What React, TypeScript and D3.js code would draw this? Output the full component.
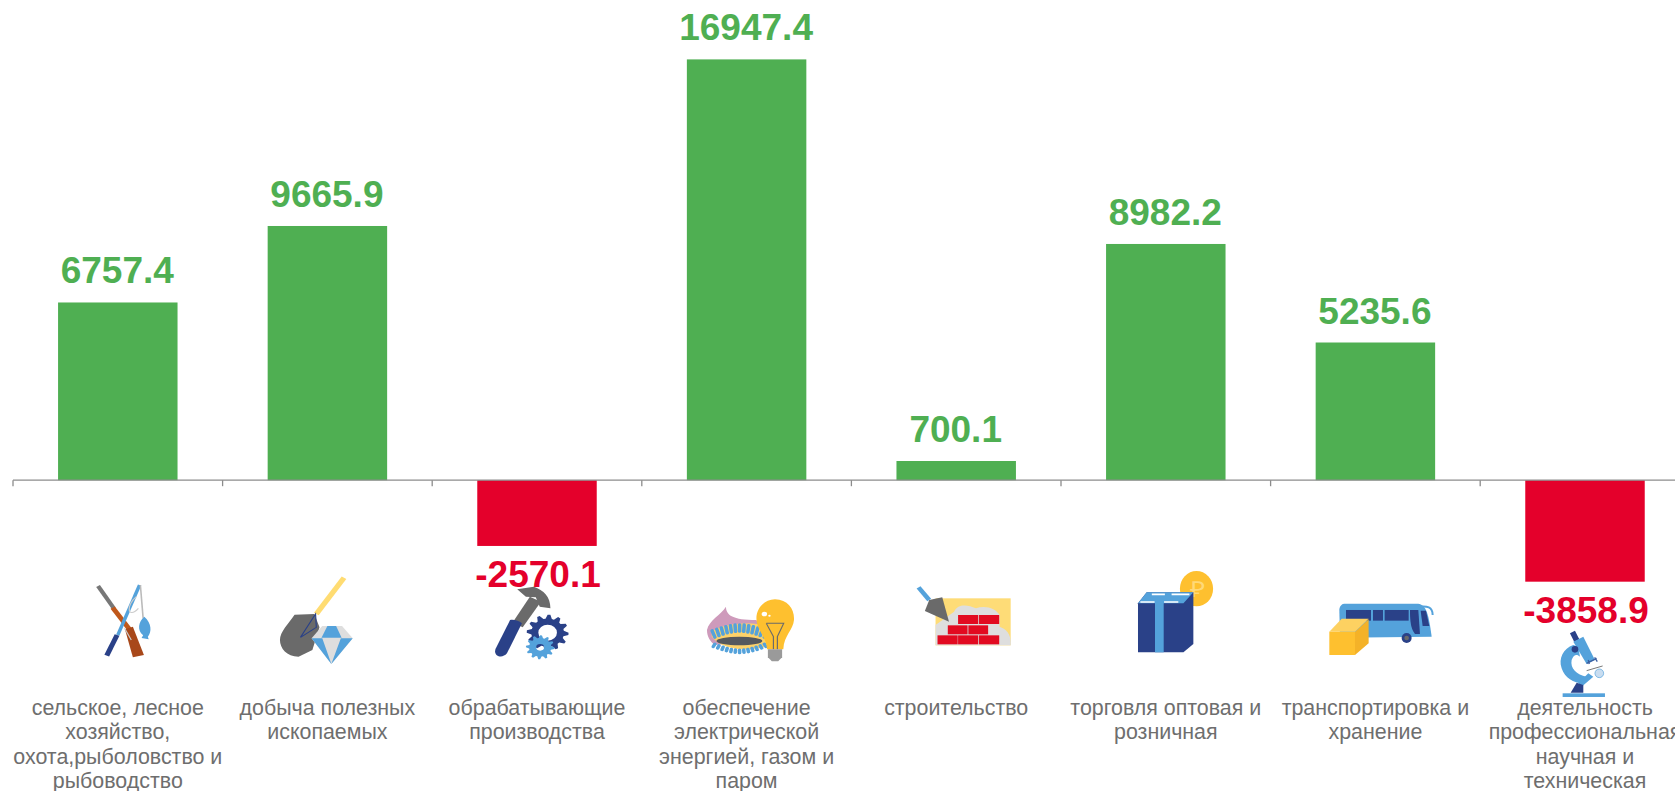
import React from "react";
import * as d3 from "d3";

const W = 1675, H = 791;
const categories = ["agri", "mining", "manufacturing", "energy", "construction", "trade", "transport", "science"];
const categoryLines = [
  ["сельское, лесное", "хозяйство,", "охота,рыболовство и", "рыбоводство"],
  ["добыча полезных", "ископаемых"],
  ["обрабатывающие", "производства"],
  ["обеспечение", "электрической", "энергией, газом и", "паром"],
  ["строительство"],
  ["торговля оптовая и", "розничная"],
  ["транспортировка и", "хранение"],
  ["деятельность", "профессиональная", "научная и", "техническая"],
];
const labels = ["6757.4", "9665.9", "-2570.1", "16947.4", "700.1", "8982.2", "5235.6", "-3858.9"];
// Heights as drawn: the tallest bar is drawn shorter than its label says.
const barValues = [6757.4, 9665.9, -2500, 16000, 730, 8982.2, 5235.6, -3858.9];

const GREEN = "#4FAF52", RED = "#E4002B", GREY = "#6E6E6E";
const NAVY = "#2A4188", BLUE = "#54A2DB", YEL = "#FEC02F", DGREY = "#6A6A6A", LG = "#DEDEDE";
const Y0 = 480.2;

const x = d3.scaleBand<string>().domain(categories).range([13, 13 + 8 * 209.6]).paddingInner(0.43).paddingOuter(0.215);
const y = d3.scaleLinear().domain([-4000, 16000]).range([Y0 + 105.2, Y0 - 420.8]);

function gearPath(cx: number, cy: number, r: number, hole: number, teeth: number, ax = 1) {
  const pts: [number, number][] = [];
  const n = teeth * 4;
  for (let i = 0; i < n; i++) {
    const a = (i / n) * Math.PI * 2;
    const rr = i % 4 < 2 ? r : r * 0.78;
    pts.push([cx + rr * ax * Math.cos(a), cy + rr * Math.sin(a)]);
  }
  const outer = "M" + pts.map((p) => p.join(",")).join("L") + "Z";
  const inner = `M${cx - hole * ax},${cy}a${hole * ax},${hole} 0 1,0 ${2 * hole * ax},0a${hole * ax},${hole} 0 1,0 ${-2 * hole * ax},0Z`;
  return outer + inner;
}

const flameTips = d3.range(0, 13);

// Pictograms traced in crop coordinates, one group per crop.
const Icons = () => (
  <g>
    <g transform={`translate(0,540) scale(${1 / 2.529},${1 / 3})`}>
      {/* rifle + rod */}
      <path d="M248,138L288,205" stroke="#777" strokeWidth={11} />
      <path d="M285,203L330,272" stroke="#C0581A" strokeWidth={13} />
      <path d="M316,268L336,260L364,345L336,352Z" fill="#A8481A" />
      <path d="M353,135L298,285" stroke={BLUE} strokeWidth={9} />
      <path d="M296,285L270,347" stroke={NAVY} strokeWidth={13} />
      <path d="M355,135L362,235" stroke="#BBB" strokeWidth={4} />
      <path d="M345,170C318,195 322,240 350,205M315,265L332,300" stroke="#CCC" strokeWidth={3} fill="none" />
      <path d="M365,230C384,250 384,275 374,290L376,298L358,294L362,286C346,270 350,245 365,230Z" fill={BLUE} />
      {/* shovel + diamond */}
      <path d="M870,113L800,222" stroke="#FFDC72" strokeWidth={14} />
      <path d="M745,224L795,222L808,262L790,330L755,350C725,350 708,325 708,300C708,275 730,250 745,224Z" fill={DGREY} />
      <path d="M798,222L760,292L800,262Z" fill="none" stroke={NAVY} strokeWidth={3} />
      <path d="M815,258L865,258L892,295L838,372L788,295Z" fill={LG} />
      <path d="M828,258L850,258L864,293L813,293Z" fill={BLUE} />
      <path d="M788,295L815,295L838,372ZM892,295L862,295L838,372Z" fill={BLUE} />
      {/* hammer + gears */}
      <path d="M1308,148L1350,140C1375,150 1392,170 1392,205L1365,200L1355,172L1330,170Z" fill={DGREY} />
      <path d="M1340,170L1368,185L1322,262L1296,248Z" fill={DGREY} />
      <path d="M1290,240C1300,238 1312,242 1320,250L1282,340C1270,358 1245,348 1254,325Z" fill={NAVY} />
      <path d={gearPath(1385, 278, 54, 24, 12, 0.98)} fill={NAVY} fillRule="evenodd" />
      <path d={gearPath(1366, 322, 36, 10, 12)} fill={BLUE} fillRule="evenodd" />
    </g>
    <g transform={`translate(620,540) scale(${1 / 2.529},${1 / 3})`}>
      {/* flame + burner + bulb */}
      <path d="M220,270C225,240 255,225 268,200C268,225 285,240 345,240L370,300L240,315C228,305 220,290 220,270Z" fill="#CE9ABB" />
      <path d="M232,275C255,250 330,245 365,255L370,320C320,335 260,330 232,290Z" fill="#FDD26A" />
      {flameTips.map((i) => {
        const f = i / 12;
        const bx = 240 + 125 * f;
        const rise = 18 * Math.sin(Math.PI * f);
        const lean = (f - 0.5) * 14;
        return (
          <g key={i}>
            <path d={`M${bx},${292 - rise}L${bx + lean},${272 - rise}`} stroke={BLUE} strokeWidth={9} strokeLinecap="round" />
            <path d={`M${bx},${312 + rise}L${bx + lean * 0.6},${320 + rise}`} stroke={BLUE} strokeWidth={9} strokeLinecap="round" />
          </g>
        );
      })}
      <ellipse cx={302} cy={303} rx={58} ry={13} fill="#55595E" />
      <path d="M392,178C425,178 442,210 440,240C438,270 415,285 413,328L372,328C370,290 345,270 345,235C345,205 365,178 392,178Z" fill={YEL} />
      <circle cx={365} cy={222} r={7} fill="#FFF" />
      <circle cx={378} cy={227} r={3} fill="#FFF" />
      <path d="M370,250L414,250L398,290L398,328M370,250L388,290L388,328" stroke="#6A6A6A" strokeWidth={3} fill="none" />
      <path d="M374,328L410,328L410,352L400,364L384,364L374,352Z" fill="#9A9A9A" />
      {/* wall */}
      <rect x={798} y={175} width={190} height={141} fill="#FEDC77" />
      <path d="M798,316L798,255L845,215C855,190 880,195 900,205C925,195 950,205 960,225L960,260C985,270 990,295 988,316Z" fill={LG} />
      {[[855, 225], [908, 225], [829, 256], [881, 256], [803, 286], [855, 286], [908, 286]].map(([bx, by], i) => (
        <rect key={i} x={bx} y={by} width={i > 1 && i < 4 ? 50 : 51} height={27} fill="#E20A20" />
      ))}
      <path d="M755,142L782,180" stroke={BLUE} strokeWidth={12} />
      <path d="M782,180L815,172L832,245L771,213Z" fill={DGREY} />
      {/* box + coin */}
      <ellipse cx={1458} cy={146} rx={42} ry={53} fill={YEL} />
      <text x={1460} y={172} fontFamily="Liberation Sans" fontSize={66} fill="#FFD978" textAnchor="middle">₽</text>
      <path d="M1310,190L1332,157L1450,157L1450,312L1425,337L1310,337Z" fill={NAVY} />
      <path d="M1310,190L1332,157L1450,157L1425,190Z" fill={BLUE} />
      <rect x={1353} y={186} width={22} height={151} fill={BLUE} />
      <path d="M1316,186L1352,186M1376,186L1412,186M1345,163L1378,163M1395,163L1440,163" stroke="#FFF" strokeWidth={5} />
    </g>
    <g transform="translate(1240,460) scale(0.3333)">
      {/* bus + parcel */}
      <path d="M312,431L530,431C555,431 565,450 575,530L300,533L298,450C298,440 305,431 312,431Z" fill={BLUE} />
      <path d="M540,440C560,438 578,440 578,465" stroke={BLUE} strokeWidth={6} fill="none" />
      <rect x={318} y={450} width={75} height={32} fill={NAVY} />
      <rect x={399} y={450} width={30} height={32} fill={NAVY} />
      <rect x={434} y={450} width={72} height={32} fill={NAVY} />
      <path d="M510,450L535,450L540,522L525,522C510,505 510,470 510,450Z" fill={NAVY} />
      <path d="M542,452L558,452L568,498L548,498Z" fill={NAVY} />
      <circle cx={500} cy={534} r={15} fill={NAVY} />
      <circle cx={500} cy={534} r={7} fill="#6A6A6A" />
      <path d="M268,515L345,515L345,585L268,585Z" fill={YEL} />
      <path d="M345,515L386,478L386,550L345,585Z" fill="#F4B228" />
      <path d="M268,515L305,476L386,476L345,515Z" fill="#FDD161" />
      {/* microscope */}
      <path d="M990,520L1005,512L1018,538L1003,546Z" fill={NAVY} />
      <path d="M1000,545L1030,530L1065,600L1040,612Z" fill={BLUE} />
      <path d="M1000,555C970,565 955,595 965,625C975,655 1000,668 1030,672L1040,650C1010,645 990,625 995,600C1000,585 1010,580 1020,590L1015,560Z" fill={BLUE} />
      <circle cx={1005} cy={568} r={10} fill={NAVY} />
      <path d="M1040,610L1070,595M1045,600L1048,612M1064,592L1072,605" stroke="#3C5FA0" strokeWidth={4} fill="none" />
      <path d="M1040,632L1088,618" stroke="#777" strokeWidth={3} />
      <circle cx={1078} cy={640} r={13} fill="#C9DDF0" stroke={BLUE} strokeWidth={2} />
      <path d="M1045,640L1060,650L1025,680L1015,670Z" fill={BLUE} />
      <path d="M992,698L1010,668L1030,675L1030,698Z" fill={NAVY} />
      <rect x={968} y={700} width={127} height={11} fill={BLUE} />
    </g>
  </g>
);

export default function App() {
  return (
    <svg width={W} height={H} viewBox={`0 0 ${W} ${H}`} style={{ position: "absolute", left: 0, top: 0, display: "block", background: "#fff" }}>
      {categories.map((c, i) => {
        const v = barValues[i];
        const top = Math.min(y(v), y(0));
        const h = Math.abs(y(v) - y(0));
        return <rect key={c} x={x(c)} y={top} width={x.bandwidth()} height={h} fill={v >= 0 ? GREEN : RED} />;
      })}
      <g stroke="#8C8C8C" strokeWidth={1.3} fill="none">
        <path d={`M13,${y(0)}L${W},${y(0)}`} />
        {categories.map((c) => {
          const tx = (x(c) as number) - x.step() * x.paddingOuter();
          return <path key={c} d={`M${tx},${y(0)}v6`} />;
        })}
      </g>
      <Icons />
      {categories.map((c, i) => {
        const v = barValues[i];
        const cx = (x(c) as number) + x.bandwidth() / 2 + (v < 0 ? 1 : -0.5);
        const ty = v >= 0 ? y(v) - 19 : y(v) + 41.5;
        return (
          <text key={c} x={cx} y={ty} textAnchor="middle" fontFamily="'Liberation Sans', Arial, sans-serif" fontWeight={700} fontSize={37} fill={v >= 0 ? GREEN : RED}>
            {labels[i]}
          </text>
        );
      })}
      {categories.map((c, i) => {
        const cx = (x(c) as number) + x.bandwidth() / 2;
        return (
          <text key={c} textAnchor="middle" fontFamily="'Liberation Sans', Arial, sans-serif" fontSize={21.4} fill={GREY}>
            {categoryLines[i].map((l, j) => (
              <tspan key={j} x={cx} y={715 + j * 24.4}>{l}</tspan>
            ))}
          </text>
        );
      })}
    </svg>
  );
}
